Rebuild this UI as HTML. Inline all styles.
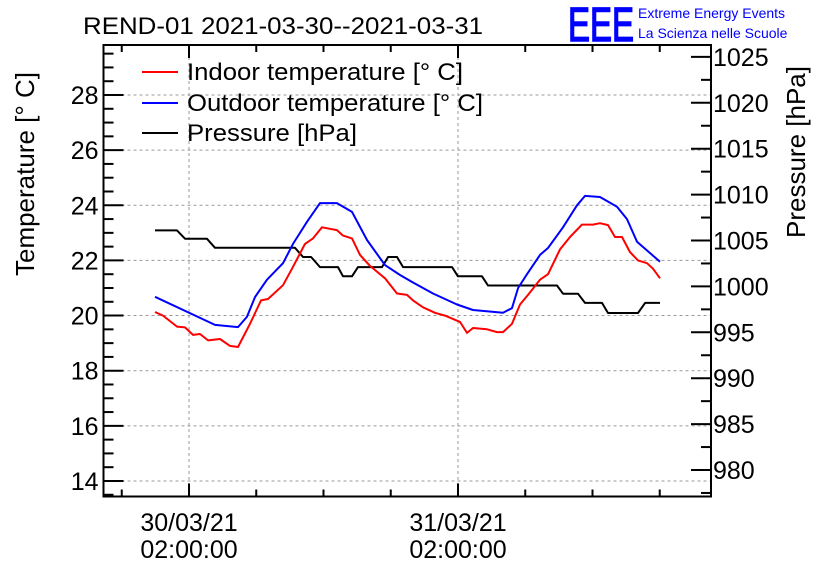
<!DOCTYPE html>
<html><head><meta charset="utf-8"><style>
body{margin:0;background:#fff;}
svg{display:block;font-family:"Liberation Sans",Arial,sans-serif;}
</style></head><body>
<svg id="chart" width="836" height="572" viewBox="0 0 836 572" xmlns="http://www.w3.org/2000/svg">
<rect width="836" height="572" fill="#fff"/>
<text x="83" y="34" font-size="24" textLength="400" lengthAdjust="spacingAndGlyphs">REND-01 2021-03-30--2021-03-31</text>
<g>
<text x="568" y="41" font-size="48" fill="#0000ff" stroke="#0000ff" stroke-width="1.5" textLength="66" lengthAdjust="spacingAndGlyphs">EEE</text>
<text x="638" y="18" font-size="14" fill="#0000ff">Extreme Energy Events</text>
<text x="638" y="38" font-size="14" fill="#0000ff">La Scienza nelle Scuole</text>
</g>
<g id="grid"></g>
<g id="axes"></g>
<g id="series"></g>
<text transform="translate(34,174) rotate(-90)" text-anchor="middle" font-size="26">Temperature [° C]</text>
<text transform="translate(805,152) rotate(-90)" text-anchor="middle" font-size="26">Pressure [hPa]</text>
<g>
<g><line x1="142" y1="72" x2="178" y2="72" stroke="#ff0000" stroke-width="2"/><text x="187" y="80" font-size="24" textLength="276" lengthAdjust="spacingAndGlyphs">Indoor temperature [° C]</text></g>
<g><line x1="142" y1="103" x2="178" y2="103" stroke="#0000ff" stroke-width="2"/><text x="187" y="111" font-size="24" textLength="296" lengthAdjust="spacingAndGlyphs">Outdoor temperature [° C]</text></g>
<g><line x1="142" y1="133" x2="178" y2="133" stroke="#000" stroke-width="2"/><text x="187" y="141" font-size="24" textLength="170" lengthAdjust="spacingAndGlyphs">Pressure [hPa]</text></g>
</g>
</svg>
<script>
// hours relative to 30/03/21 02:00:00
const outdoorTimes=[-3.03,2.32,4.37,5.17,5.89,6.96,8.39,9.28,10.53,11.69,13.2,14.54,15.88,17.49,18.83,19.99,21.77,23.91,25.34,28.02,28.82,29.36,30.16,31.32,32.03,33.37,34.62,35.33,36.67,38.19,39.08,39.97,42.02];
const outdoorTemps=[20.68,19.66,19.58,19.95,20.67,21.3,21.9,22.6,23.4,24.08,24.08,23.76,22.74,21.83,21.47,21.2,20.8,20.4,20.2,20.1,20.27,21.0,21.5,22.2,22.45,23.2,24.0,24.34,24.3,23.95,23.5,22.68,21.95];
const indoorTimes=[-3.03,-2.32,-1.07,-0.36,0.36,0.98,1.7,2.77,3.66,4.37,5.44,6.42,7.05,8.39,9.19,10.35,11.06,11.87,13.2,13.74,14.54,15.26,16.15,17.49,18.56,19.45,19.99,20.88,21.95,22.84,24.18,24.8,25.34,26.59,27.48,28.02,28.82,29.53,30.25,31.32,32.03,33.1,33.99,35.06,36.05,36.67,37.38,38.01,38.63,39.35,40.06,40.86,41.4,42.02];
const indoorTemps=[20.13,20.0,19.6,19.57,19.3,19.33,19.1,19.15,18.9,18.86,19.7,20.55,20.6,21.1,21.7,22.6,22.8,23.2,23.1,22.9,22.8,22.2,21.8,21.35,20.8,20.75,20.55,20.3,20.1,20.0,19.77,19.37,19.55,19.5,19.4,19.4,19.7,20.4,20.75,21.3,21.5,22.4,22.85,23.3,23.3,23.35,23.28,22.85,22.85,22.3,22.0,21.9,21.7,21.35];
const pressureTimes=[-3.03,-1.07,-0.36,1.6,2.32,9.46,10.17,10.89,11.69,13.29,13.74,14.54,15.08,17.22,17.76,18.56,19.1,23.47,23.99,26.14,26.68,32.83,33.37,34.71,35.33,36.85,37.38,40.06,40.69,42.02];
const pressureValues=[1006.1,1006.1,1005.2,1005.2,1004.2,1004.2,1003.2,1003.2,1002.1,1002.1,1001.1,1001.1,1002.1,1002.1,1003.2,1003.2,1002.1,1002.1,1001.1,1001.1,1000.1,1000.1,999.2,999.2,998.2,998.2,997.1,997.1,998.2,998.2];
const tempTicks=[14,16,18,20,22,24,26,28];
const pressTicks=[980,985,990,995,1000,1005,1010,1015,1020,1025];
const dateTicks=[0,24];
const dateLabels=[["30/03/21","02:00:00"],["31/03/21","02:00:00"]];

const L=103.5,R=711,T=45,B=496.5;
const X=h=>189+h*11.208;
const YT=t=>95+(28-t)*27.57;
const YP=p=>470-(p-980)*9.18;
const NS="http://www.w3.org/2000/svg";
function mk(tag,attrs,parent){const e=document.createElementNS(NS,tag);for(const k in attrs)e.setAttribute(k,attrs[k]);parent.appendChild(e);return e;}
const grid=document.getElementById('grid'),axes=document.getElementById('axes'),series=document.getElementById('series');
tempTicks.forEach(t=>{const g=mk('line',{x1:L,x2:R,y1:YT(t),y2:YT(t),stroke:'#999','stroke-dasharray':'3,3','stroke-width':1},grid);

});
dateTicks.forEach(h=>{const g=mk('line',{x1:X(h),x2:X(h),y1:T,y2:B,stroke:'#999','stroke-dasharray':'3,3','stroke-width':1},grid);

});
const frame=mk('rect',{x:L,y:T,width:R-L,height:B-T,fill:'none',stroke:'#000','stroke-width':2},axes);


for(let t=13.5;t<=29.8;t+=0.5){const y=YT(t);if(y<T||y>B)continue;const major=Math.abs(t-Math.round(t/2)*2)<1e-6;
mk('line',{x1:L,x2:L+(major?20:10),y1:y,y2:y,stroke:'#000','stroke-width':2},axes);}
tempTicks.forEach(t=>{const e=mk('text',{x:L-5,y:YT(t)+9,'text-anchor':'end','font-size':25},axes);e.textContent=t;

});
for(let p=977.5;p<=1026;p+=2.5){const y=YP(p);if(y<T||y>B)continue;const major=Math.abs(p%5)<1e-6;
mk('line',{x1:R,x2:R-(major?20:10),y1:y,y2:y,stroke:'#000','stroke-width':2},axes);}
pressTicks.forEach(p=>{const e=mk('text',{x:R+2,y:YP(p)+9,'font-size':25},axes);e.textContent=p;

});
for(let h=-6;h<=48;h+=6){const x=X(h);if(x<L||x>R)continue;const major=h%24===0;
mk('line',{x1:x,x2:x,y1:B,y2:B-(major?13:7),stroke:'#000','stroke-width':2},axes);
mk('line',{x1:x,x2:x,y1:T,y2:T+(major?13:7),stroke:'#000','stroke-width':2},axes);}
dateTicks.forEach((h,i)=>{dateLabels[i].forEach((s,j)=>{const e=mk('text',{x:X(h),y:531+j*27,'text-anchor':'middle','font-size':25},axes);e.textContent=s;

});});
function line(ts,vs,yf,color,name){const d=ts.map((t,i)=>(i?'L':'M')+X(t).toFixed(1)+' '+yf(vs[i]).toFixed(1)).join(' ');
const p=mk('path',{d:d,fill:'none',stroke:color,'stroke-width':2,'stroke-linejoin':'round'},series);

}
line(pressureTimes,pressureValues,YP,'#000','pressure-line');
line(indoorTimes,indoorTemps,YT,'#ff0000','indoor-temperature-line');
line(outdoorTimes,outdoorTemps,YT,'#0000ff','outdoor-temperature-line');
</script>
</body></html>
